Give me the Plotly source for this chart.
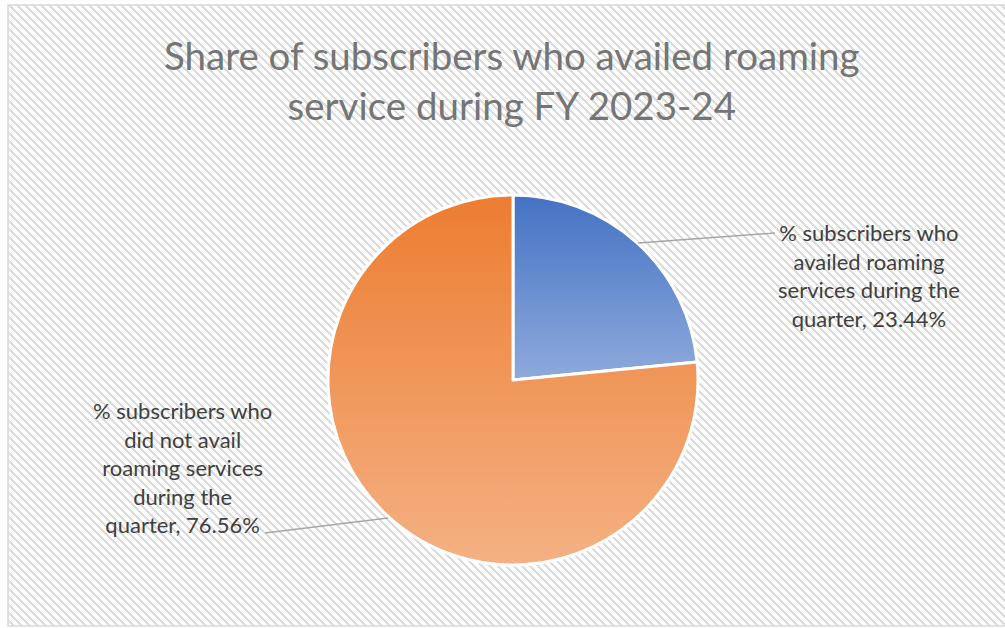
import base64
import math
import plotly.graph_objects as go

# Data
categories = [
    "% subscribers who availed roaming services during the quarter",
    "% subscribers who did not avail roaming services during the quarter",
]
shares = [23.44, 76.56]
colors = ["#4472C4", "#ED7D31"]
title_text = "Share of subscribers who availed roaming<br>service during FY 2023-24"
label_lines = [
    ["% subscribers who", "availed roaming", "services during the", "quarter, {:.2f}%"],
    ["% subscribers who", "did not avail", "roaming services", "during the", "quarter, {:.2f}%"],
]

W, H = 1005, 628
FONT = "Lato"

# Pie placement in pixels
cx, cy, r = 513, 380, 185


def px(x):
    return x / W


def py(y):
    return 1 - y / H


def svg_uri(svg):
    return "data:image/svg+xml;base64," + base64.b64encode(svg.encode()).decode()


# Hatched chart-area background
bx0, by0, bx1, by1 = 8, 5, 1012, 626
bw, bh = bx1 - bx0, by1 - by0
rows = "".join(
    f'<rect x="{(i + k) % 8}" y="{i}" width="1" height="1" fill="#DCDCDC"/>'
    for i in range(8) for k in range(3)
)
hatch_svg = (
    f'<svg xmlns="http://www.w3.org/2000/svg" width="{bw}" height="{bh}" '
    f'viewBox="0 0 {bw} {bh}" preserveAspectRatio="none" shape-rendering="crispEdges">'
    f'<defs><pattern id="p" width="8" height="8" patternUnits="userSpaceOnUse">'
    f'<rect width="8" height="8" fill="#FFFFFF"/>{rows}</pattern></defs>'
    f'<rect width="{bw}" height="{bh}" fill="url(#p)"/></svg>'
)

# Vertical light sheen on each slice (per-slice bounding box gradient)
total = sum(shares)
paths = []
start = 0.0
for v in shares:
    a0 = 2 * math.pi * start / total
    a1 = 2 * math.pi * (start + v) / total
    large = 1 if (a1 - a0) > math.pi else 0
    x0, y0 = math.sin(a0), -math.cos(a0)
    x1, y1 = math.sin(a1), -math.cos(a1)
    paths.append(
        f'<path d="M0,0 L{x0:.5f},{y0:.5f} A1,1 0 {large},1 {x1:.5f},{y1:.5f} Z" fill="url(#g)"/>'
    )
    start += v
sheen_svg = (
    '<svg xmlns="http://www.w3.org/2000/svg" width="400" height="400" viewBox="-1 -1 2 2" '
    'preserveAspectRatio="none"><defs><linearGradient id="g" x1="0" y1="0" x2="0" y2="1">'
    '<stop offset="0" stop-color="#FFFFFF" stop-opacity="0"/>'
    '<stop offset="1" stop-color="#FFFFFF" stop-opacity="0.4"/></linearGradient></defs>'
    + "".join(paths) + "</svg>"
)

fig = go.Figure(
    go.Pie(
        labels=categories,
        values=shares,
        sort=False,
        direction="clockwise",
        rotation=0,
        textinfo="none",
        hoverinfo="label+percent",
        marker=dict(colors=colors, line=dict(color="#FFFFFF", width=3)),
        domain=dict(x=[px(cx - r), px(cx + r)], y=[py(cy + r), py(cy - r)]),
        showlegend=False,
    )
)

# Chart title
fig.add_annotation(
    x=px(512), y=py(80), xref="paper", yref="paper",
    text=title_text, showarrow=False, align="center",
    xanchor="center", yanchor="middle",
    font=dict(family=FONT, size=38.5, color="#757575"),
)

# Data labels
label_pos = [(869, 275), (182, 467)]
for lines, v, (lx, ly) in zip(label_lines, shares, label_pos):
    text = "<br>".join(lines[:-1] + [lines[-1].format(v)])
    fig.add_annotation(
        x=px(lx), y=py(ly), xref="paper", yref="paper",
        text=text, showarrow=False, align="center",
        xanchor="center", yanchor="middle",
        font=dict(family=FONT, size=22, color="#404040"),
    )

# Leader lines
leaders = [((638, 243), (775, 233)), ((388, 518), (265, 533))]
for (ax0, ay0), (ax1, ay1) in leaders:
    fig.add_shape(
        type="line", xref="paper", yref="paper",
        x0=px(ax0), y0=py(ay0), x1=px(ax1), y1=py(ay1),
        line=dict(color="#A6A6A6", width=1.5),
    )

# Chart border
fig.add_shape(
    type="rect", xref="paper", yref="paper",
    x0=px(bx0), y0=py(by1), x1=px(bx1), y1=py(by0),
    line=dict(color="#D9D9D9", width=1.5), layer="below",
)

fig.update_layout(
    width=W, height=H,
    margin=dict(l=0, r=0, t=0, b=0),
    paper_bgcolor="#FFFFFF",
    plot_bgcolor="#FFFFFF",
    images=[
        dict(source=svg_uri(hatch_svg), xref="paper", yref="paper",
             x=px(bx0), y=py(by0), sizex=bw / W, sizey=bh / H,
             xanchor="left", yanchor="top", sizing="stretch", layer="below"),
        dict(source=svg_uri(sheen_svg), xref="paper", yref="paper",
             x=px(cx - r), y=py(cy - r), sizex=2 * r / W, sizey=2 * r / H,
             xanchor="left", yanchor="top", sizing="stretch", layer="above"),
    ],
)

fig.write_html("out.html")
